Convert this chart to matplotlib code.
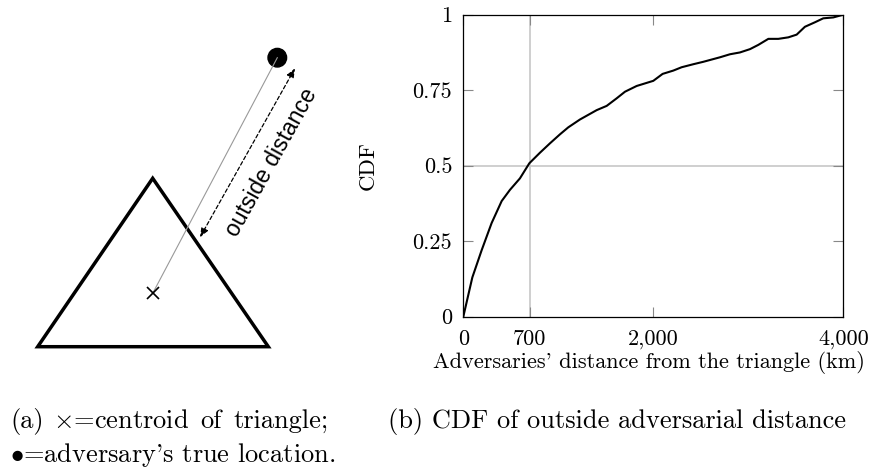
import matplotlib
matplotlib.use("Agg")
import matplotlib.pyplot as plt
from matplotlib.patches import Circle, Polygon

plt.rcParams["font.family"] = ["cmr10", "DejaVu Serif"]
plt.rcParams["mathtext.fontset"] = "cm"
plt.rcParams["axes.formatter.use_mathtext"] = True

# CDF of outside distance (km)
dist_km = [0, 95, 193, 298, 404, 491, 596, 695, 807, 912, 1018, 1105, 1228,
           1404, 1509, 1614, 1702, 1825, 2000, 2098, 2211, 2298, 2421, 2526,
           2702, 2807, 2912, 3018, 3105, 3211, 3316, 3421, 3509, 3596, 3702,
           3789, 3895, 4000]
cdf = [0, 0.13, 0.22, 0.31, 0.383, 0.42, 0.458, 0.508, 0.543, 0.574, 0.604,
       0.627, 0.653, 0.684, 0.698, 0.723, 0.745, 0.764, 0.781, 0.804, 0.815,
       0.826, 0.836, 0.844, 0.859, 0.869, 0.875, 0.886, 0.9, 0.92, 0.92,
       0.925, 0.934, 0.96, 0.975, 0.988, 0.991, 1.0]
x_ticks = [0, 700, 2000, 4000]
x_tick_labels = ["0", "700", "2,000", "4,000"]
y_ticks = [0, 0.25, 0.5, 0.75, 1]
y_tick_labels = ["0", "0.25", "0.5", "0.75", "1"]

# sketch of the triangle (pixel units of the left panel)
triangle = [(152.7, 178.3), (37.7, 346.7), (268.3, 346.7)]
centroid = (152.7, 293.3)
adversary = (277.3, 57.7)
arrow_ends = [(295, 68.3), (200, 237.3)]

fig = plt.figure(figsize=(8.72, 4.69), dpi=100)

# (a) sketch
ax0 = fig.add_axes([0, 0, 400 / 872, 1])
ax0.set_xlim(0, 400)
ax0.set_ylim(469, 0)
ax0.axis("off")
ax0.add_patch(Polygon(triangle, closed=True, fill=False, lw=2.5,
                      edgecolor="black", joinstyle="miter"))
ax0.plot([centroid[0], adversary[0]], [centroid[1], adversary[1]],
         color="#999999", lw=0.8)
ax0.plot(*centroid, marker="x", color="black", ms=8, mew=1.2)
ax0.add_patch(Circle(adversary, 9.3, color="black"))
ax0.annotate("", xy=arrow_ends[0], xytext=arrow_ends[1],
             arrowprops=dict(arrowstyle="<|-|>,head_length=0.55,head_width=0.22",
                             color="black", lw=0.9, linestyle=(0, (3, 2)),
                             shrinkA=0, shrinkB=0))
ax0.text(271, 162, "outside distance", family="Liberation Sans",
         fontsize=16.5, rotation=61, ha="center", va="center",
         rotation_mode="anchor")

# (b) CDF
ax = fig.add_axes([463.3 / 872, (469 - 316.7) / 469, 380 / 872, 302 / 469])
ax.plot(dist_km, cdf, color="black", lw=1.5)
ax.axvline(700, color="#cccccc", lw=1.3, zorder=0)
ax.axhline(0.5, color="#cccccc", lw=1.3, zorder=0)
ax.set_xlim(0, 4000)
ax.set_ylim(0, 1)
ax.set_xticks(x_ticks)
ax.set_xticklabels(x_tick_labels)
ax.set_yticks(y_ticks)
ax.set_yticklabels(y_tick_labels)
ax.tick_params(direction="in", length=7, width=0.8, color="#888888",
               labelsize=16, top=True, right=True)
ax.tick_params(axis="x", pad=9)
ax.tick_params(axis="y", pad=8)
for s in ax.spines.values():
    s.set_linewidth(0.9)
ax.set_xlabel("Adversaries' distance from the triangle (km)", fontsize=16)
ax.xaxis.label.set_va("center")
ax.xaxis.set_label_coords((649 - 463.3) / 380, (316.7 - 362) / 302)
ax.set_ylabel("CDF", fontsize=16.5)
ax.yaxis.label.set_va("center")
ax.yaxis.set_label_coords((368 - 463.3) / 380, 0.5)

# captions
cap_y1 = 1 - 421 / 469
cap_y2 = 1 - 455 / 469
fig.text(10 / 872, cap_y1, "(a)", fontsize=19, va="center")
fig.text(53 / 872, cap_y1, r"$\times$=centroid", fontsize=19, va="center")
fig.text(200 / 872, cap_y1, "of", fontsize=19, va="center")
fig.text(233 / 872, cap_y1, "triangle;", fontsize=19, va="center")
fig.text(10 / 872, cap_y2, r"$\bullet$=adversary's true location.",
         fontsize=19, va="center")
fig.text(617 / 872, cap_y1, "(b) CDF of outside adversarial distance",
         fontsize=19, va="center", ha="center")

fig.savefig("out.png", dpi=100)
